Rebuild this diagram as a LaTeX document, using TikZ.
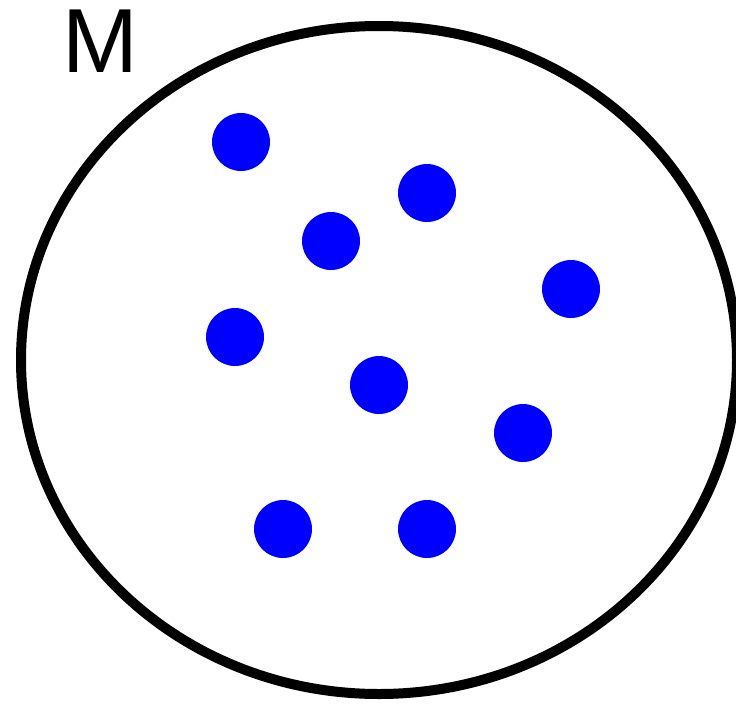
\documentclass[tikz,border=0pt]{standalone}
\usepackage{fontspec}
\setmainfont{Liberation Sans}
\usetikzlibrary{positioning}
\colorlet{cpoint}{blue}
\tikzset{
  setline/.style={draw=black, line width=10pt},
  dot/.style={circle, fill=cpoint, minimum size=58pt, inner sep=0pt},
  setlabel/.style={font=\fontsize{91}{91}\selectfont, inner sep=0pt, anchor=base},
}
\begin{document}
\begin{tikzpicture}[x=1pt, y=-1pt]
\useasboundingbox (0,0) rectangle (736,704);
\begin{scope}
\clip (0,0) rectangle (736,704);
\draw[setline] (379,360) ellipse [x radius=358, y radius=334];
\end{scope}
\node[setlabel] (lbl) at (100,72) {M};
\foreach \n/\x/\y in {1/241/142, 2/427/193, 3/331/241, 4/571/289, 5/235/337,
                      6/379/385, 7/523/433, 8/283/529, 9/427/529}
  \node[dot] (p\n) at (\x,\y) {};
\end{tikzpicture}
\end{document}
